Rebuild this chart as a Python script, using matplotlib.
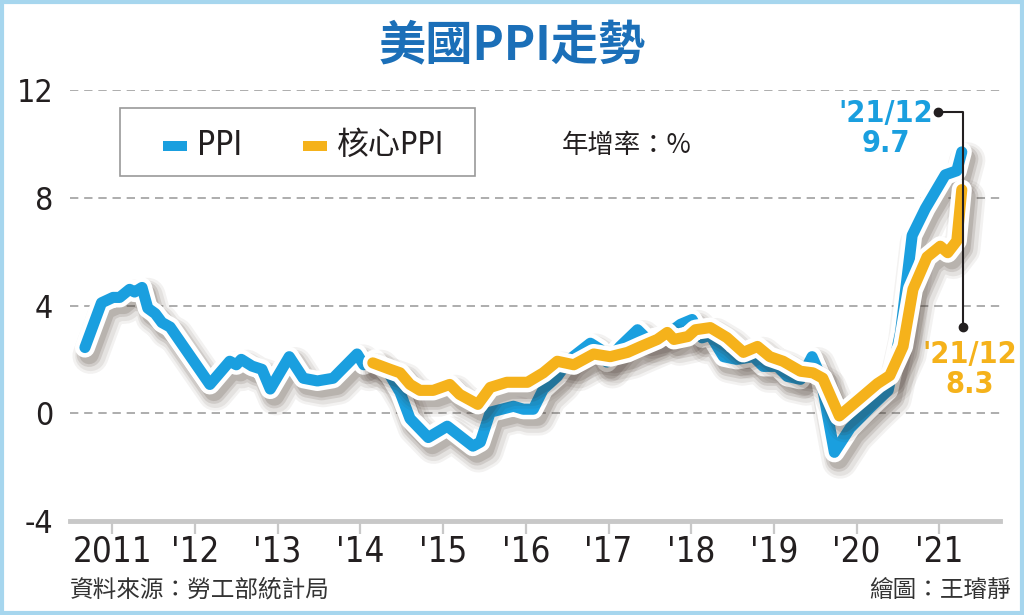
import matplotlib
matplotlib.use("Agg")
import matplotlib.pyplot as plt
import matplotlib.patheffects as pe
from matplotlib.patches import Rectangle

# ---- data (year position, YoY %) ----
ppi_x = [2010.67, 2010.87, 2011.01, 2011.09, 2011.21, 2011.27, 2011.36, 2011.43, 2011.52, 2011.60,
         2011.70, 2012.18, 2012.42, 2012.50, 2012.56, 2012.69, 2012.81, 2012.91, 2013.14, 2013.31,
         2013.48, 2013.67, 2013.96, 2014.04, 2014.18, 2014.36, 2014.48, 2014.60, 2014.82, 2015.05,
         2015.36, 2015.45, 2015.57, 2015.71, 2015.85, 2015.97, 2016.09, 2016.21, 2016.38, 2016.53,
         2016.78, 2016.90, 2016.98, 2017.14, 2017.35, 2017.47, 2017.62, 2017.74, 2017.87, 2018.01,
         2018.13, 2018.23, 2018.39, 2018.55, 2018.75, 2018.87, 2019.04, 2019.16, 2019.32, 2019.46,
         2019.56, 2019.73, 2019.92, 2020.16, 2020.38, 2020.53, 2020.67, 2020.83, 2021.07, 2021.21,
         2021.27]
ppi_y = [2.44, 4.1, 4.3, 4.3, 4.6, 4.5, 4.67, 3.9, 3.7, 3.37,
         3.2, 1.07, 1.93, 1.8, 2.0, 1.75, 1.63, 0.9, 2.1, 1.3,
         1.2, 1.3, 2.2, 1.8, 2.0, 1.4, 0.78, -0.2, -0.9, -0.48,
         -1.22, -1.07, 0.04, 0.15, 0.26, 0.15, 0.15, 0.89, 1.37, 2.0,
         2.6, 2.37, 1.9, 2.48, 3.1, 2.74, 2.85, 3.0, 3.3, 3.48,
         2.8, 2.9, 2.1, 2.0, 2.1, 1.74, 1.74, 1.37, 1.26, 2.1,
         1.4, -1.45, -0.55, 0.2, 0.85, 3.0, 6.6, 7.6, 8.85, 9.0,
         9.7]

core_x = [2014.15, 2014.36, 2014.48, 2014.60, 2014.72, 2014.88, 2015.08, 2015.20, 2015.42, 2015.57,
          2015.77, 2016.02, 2016.21, 2016.38, 2016.58, 2016.82, 2017.02, 2017.23, 2017.39, 2017.59,
          2017.71, 2017.79, 2017.96, 2018.05, 2018.23, 2018.43, 2018.63, 2018.80, 2018.95, 2019.11,
          2019.32, 2019.47, 2019.59, 2019.79, 2020.04, 2020.25, 2020.40, 2020.56, 2020.68, 2020.85,
          2021.01, 2021.10, 2021.21, 2021.27]
core_y = [1.87, 1.63, 1.5, 1.07, 0.85, 0.85, 1.07, 0.7, 0.33, 0.96,
          1.15, 1.15, 1.5, 1.93, 1.8, 2.2, 2.1, 2.26, 2.48, 2.74,
          3.0, 2.74, 2.85, 3.1, 3.18, 2.81, 2.26, 2.48, 2.1, 1.93,
          1.56, 1.5, 1.3, -0.1, 0.55, 1.1, 1.4, 2.48, 4.6, 5.8,
          6.2, 5.96, 6.4, 8.3]

year_ticks = [2011, 2012, 2013, 2014, 2015, 2016, 2017, 2018, 2019, 2020, 2021]
year_labels = ["2011", "'12", "'13", "'14", "'15", "'16", "'17", "'18", "'19", "'20", "'21"]
y_ticks = [-4, 0, 4, 8, 12]

BLUE = "#1a9fdf"
ORANGE = "#f5b21b"
TITLE_BLUE = "#1b6fb8"
TXT = "#231f20"
NUM = ["DejaVu Sans"]
CJK = ["Noto Sans CJK TC", "DejaVu Sans"]
NUM_CJK = ["DejaVu Sans", "Noto Sans CJK TC"]
COND = "condensed"

fig = plt.figure(figsize=(10.24, 6.15), dpi=100)
fig.patch.set_facecolor("white")

# light blue frame
fig.patches.append(Rectangle((0.0015, 0.0025), 0.997, 0.995, transform=fig.transFigure,
                             fill=False, edgecolor="#a6d6ee", linewidth=3))

ax = fig.add_axes([0.0684, 0.1528, 0.908, 0.7009])
ax.set_xlim(2010.49, 2021.73)
ax.set_ylim(-4, 12)

for s in ["left", "right", "top"]:
    ax.spines[s].set_visible(False)
ax.spines["bottom"].set_color("#c8c8c8")
ax.spines["bottom"].set_linewidth(3.5)

ax.set_yticks(y_ticks)
ax.set_yticklabels([str(v) for v in y_ticks], family=NUM, fontstretch=COND, fontsize=23, color=TXT)
ax.tick_params(axis="y", length=0, pad=12)
ax.set_xticks(year_ticks)
ax.set_xticklabels(year_labels, family=NUM, fontstretch=COND, fontsize=25, color=TXT)
ax.tick_params(axis="x", length=9, width=1.6, color="#c8c8c8", pad=1)

ax.grid(axis="y", color="#a0a0a0", linestyle=(0, (5, 3.5)), linewidth=1.2)
ax.set_axisbelow(True)


def line_fx():
    return [pe.SimpleLineShadow(offset=(4, -6), shadow_color="#3a2a20", alpha=0.06, linewidth=26),
            pe.SimpleLineShadow(offset=(4, -6), shadow_color="#3a2a20", alpha=0.08, linewidth=22),
            pe.SimpleLineShadow(offset=(3, -5), shadow_color="#3a2a20", alpha=0.12, linewidth=18),
            pe.SimpleLineShadow(offset=(3, -5), shadow_color="#3a2a20", alpha=0.15, linewidth=14),
            pe.Stroke(linewidth=14.5, foreground="white"),
            pe.Normal()]


ax.plot(ppi_x, ppi_y, color=BLUE, linewidth=8, solid_capstyle="round",
        solid_joinstyle="round", path_effects=line_fx(), zorder=3)
ax.plot(core_x, core_y, color=ORANGE, linewidth=8, solid_capstyle="round",
        solid_joinstyle="round", path_effects=line_fx(), zorder=4)

# end-point callouts
ax.plot([2020.98, 2021.29, 2021.29], [11.19, 11.19, 3.19], color=TXT, linewidth=1.5,
        clip_on=False, zorder=5)
ax.plot([2020.98, 2021.29], [11.19, 3.19], "o", color=TXT, markersize=6, clip_on=False, zorder=5)
ax.text(2020.35, 10.56, "'21/12\n%.1f" % ppi_y[-1], ha="center", va="center", color=BLUE,
        fontsize=22, fontweight="bold", family="DejaVu Sans", fontstretch=COND, linespacing=1.05)
ax.text(2021.37, 1.63, "'21/12\n%.1f" % core_y[-1], ha="center", va="center", color=ORANGE,
        fontsize=22, fontweight="bold", family="DejaVu Sans", fontstretch=COND, linespacing=1.05,
        clip_on=False)

# title
fig.text(0.5, 0.925, "美國PPI走勢", ha="center", va="center", color=TITLE_BLUE,
         fontsize=34, fontweight="bold", family=CJK)

# legend box
fig.patches.append(Rectangle((0.1172, 0.7138), 0.3467, 0.1106, transform=fig.transFigure,
                             fill=False, edgecolor="#9a9a9a", linewidth=1.2))
fig.patches.append(Rectangle((0.159, 0.7545), 0.0235, 0.0155, transform=fig.transFigure,
                             facecolor=BLUE, edgecolor="none"))
fig.text(0.1925, 0.763, "PPI", ha="left", va="center", fontsize=24, color=TXT,
         family=NUM_CJK, fontstretch=COND)
fig.patches.append(Rectangle((0.296, 0.7545), 0.0235, 0.0155, transform=fig.transFigure,
                             facecolor=ORANGE, edgecolor="none"))
fig.text(0.329, 0.763, "核心PPI", ha="left", va="center", fontsize=23, color=TXT,
         family=NUM_CJK, fontstretch=COND)
fig.text(0.549, 0.763, "年增率：%", ha="left", va="center", fontsize=19, color=TXT, family=CJK)

# footer
fig.text(0.068, 0.040, "資料來源：勞工部統計局", ha="left", va="center", fontsize=17,
         color="#333333", family=CJK)
fig.text(0.987, 0.040, "繪圖：王璿靜", ha="right", va="center", fontsize=17,
         color="#333333", family=CJK)

fig.savefig("out.png", dpi=100, facecolor="white")
